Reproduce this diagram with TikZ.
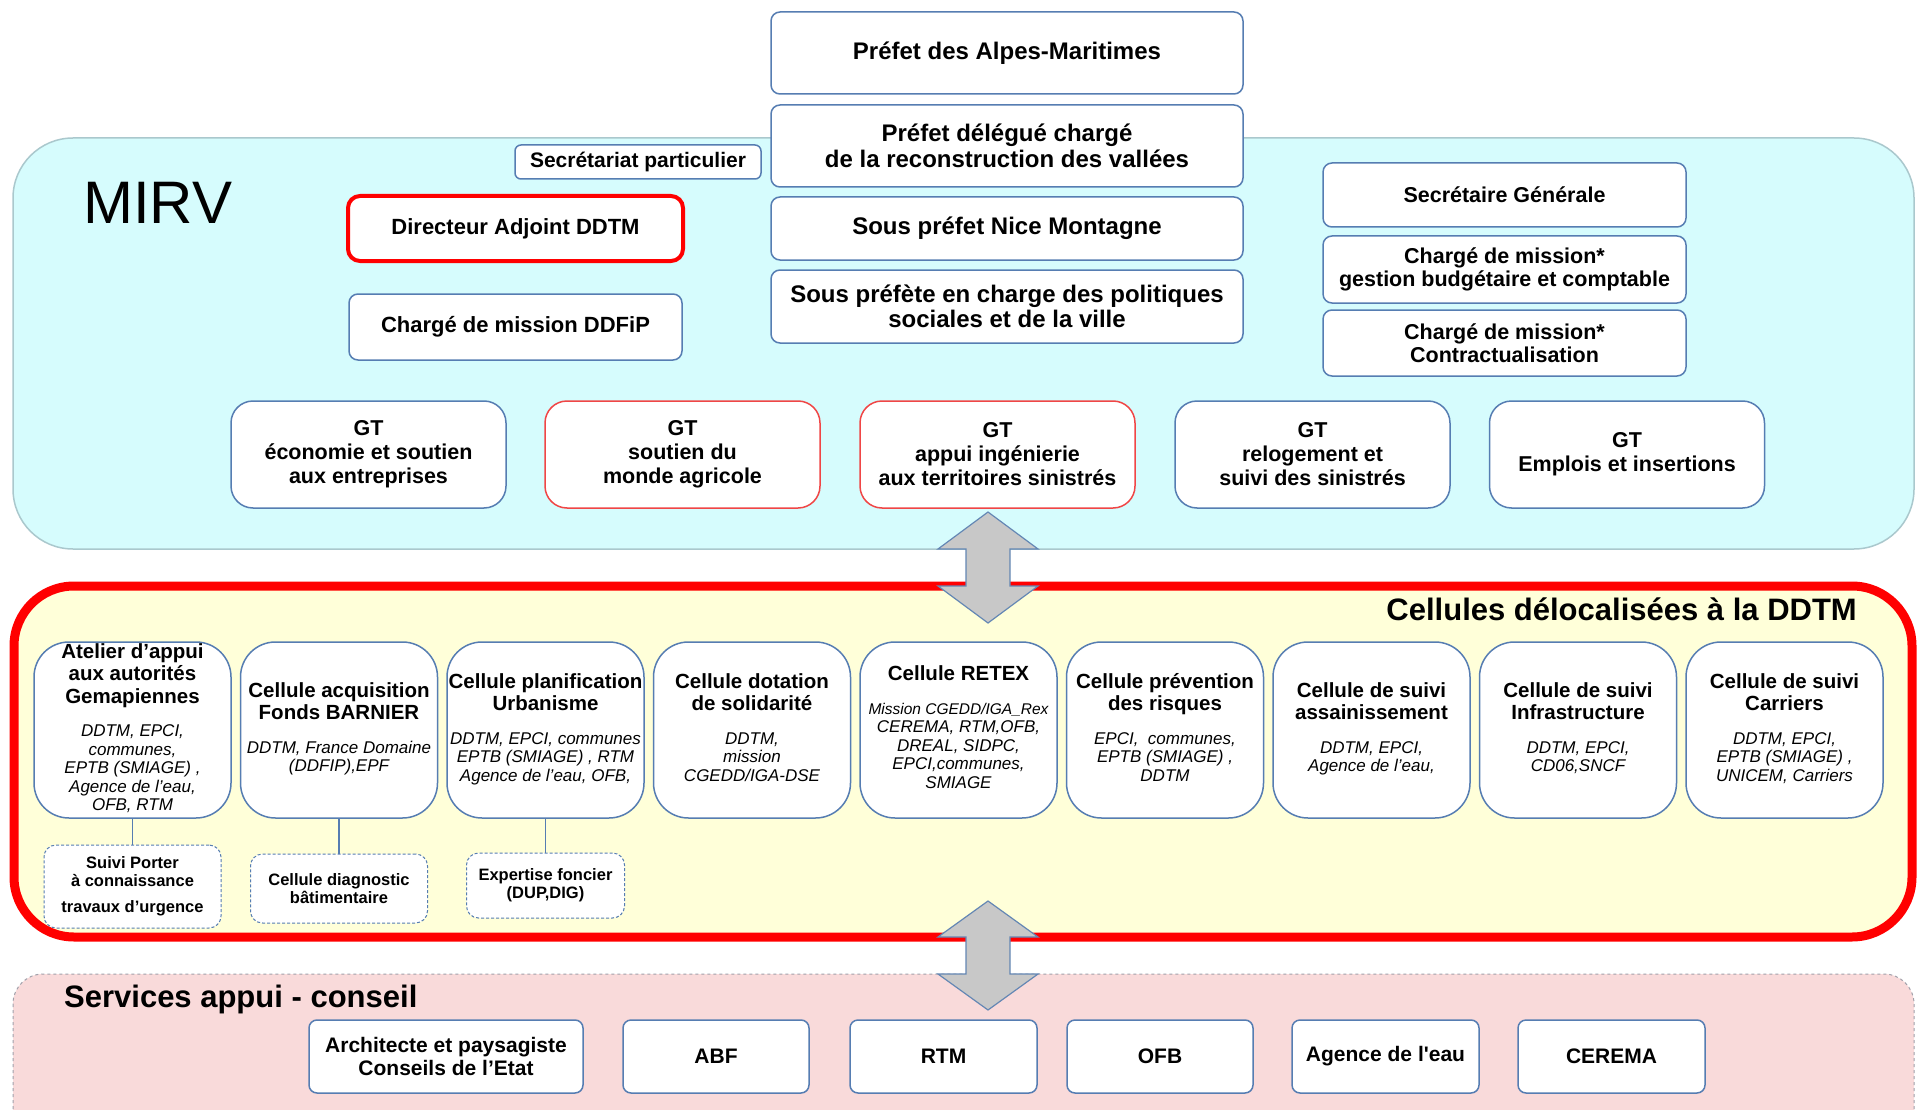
\documentclass[tikz,border=0pt]{standalone}
\usepackage{fontspec}
\setmainfont{Liberation Sans}
\usetikzlibrary{calc}
\newcommand\myfs[2]{\fontsize{#1pt}{#2pt}\selectfont}
\newcommand\detl[1]{{\mdseries\itshape\myfs{17}{18.5}\begin{tabular}[t]{@{}c@{}}#1\end{tabular}}}

\definecolor{boxblue}{RGB}{86,125,178}
\definecolor{mirvfill}{RGB}{214,252,253}
\definecolor{mirvline}{RGB}{170,200,205}
\definecolor{cellfill}{RGB}{255,255,217}
\definecolor{servfill}{RGB}{249,218,218}
\definecolor{servline}{RGB}{160,160,170}
\definecolor{redline}{RGB}{255,0,0}
\definecolor{gtred}{RGB}{240,70,70}
\definecolor{arrowfill}{RGB}{200,200,200}
\definecolor{arrowline}{RGB}{100,135,180}

\begin{document}
\begin{tikzpicture}[x=1pt,y=-1pt,
  base/.style={draw=boxblue, line width=1.5pt, fill=white, align=center, inner sep=0pt, font=\bfseries},
  topbox/.style={base, rounded corners=9pt, minimum width=472pt, font=\bfseries\myfs{24}{25.5}},
  midbox/.style={base, rounded corners=9pt, font=\bfseries\myfs{21.5}{23}},
  gtbox/.style={base, rounded corners=22pt, minimum width=275pt, minimum height=107pt, font=\bfseries\myfs{21.5}{24}},
  cellbox/.style={base, rounded corners=35pt, minimum width=197pt, minimum height=176pt, font=\bfseries\myfs{20.5}{22.5}},
  dashbox/.style={base, densely dashed, line width=1pt, rounded corners=12pt, font=\bfseries\myfs{16.5}{18}},
  servbox/.style={base, rounded corners=8pt, minimum height=73pt, font=\bfseries\myfs{21}{23.5}},
  link/.style={draw=boxblue, line width=1.2pt},
  bigarrow/.style={fill=arrowfill, draw=arrowline, line width=1.2pt, line join=miter},
  title/.style={inner sep=0pt, font=\bfseries\myfs{31}{33}},
]
\clip (0,0) rectangle (1917,1110);
\fill[white] (0,0) rectangle (1917,1110);

% regions
\draw[mirvline, fill=mirvfill, line width=1.5pt, rounded corners=60pt] (13,138) rectangle (1914,549);
\draw[redline, fill=cellfill, line width=9pt, rounded corners=60pt] (14,586) rectangle (1912,937);
\draw[servline, fill=servfill, line width=1pt, dashed, rounded corners=30pt] (13,974) rectangle (1914,1160);

% MIRV
\node[anchor=base west, inner sep=0pt, font=\myfs{60}{64}] (mirv) at (83,224) {MIRV};

\node[topbox, minimum height=82pt] (prefet) at (1007,53) {Préfet des Alpes-Maritimes};
\node[topbox, minimum height=82pt] (delegue) at (1007,146) {Préfet délégué chargé\\de la reconstruction des vallées};
\node[topbox, minimum height=63pt] (souspref) at (1007,228.5) {Sous préfet Nice Montagne};
\node[topbox, minimum height=73pt] (sousprefete) at (1007,306.5) {Sous préfète en charge des politiques\\sociales et de la ville};

\node[base, rounded corners=6pt, minimum width=246pt, minimum height=34pt, font=\bfseries\myfs{21}{22}] (secr) at (638,162) {Secrétariat particulier};
\node[base, draw=redline, line width=4pt, rounded corners=12pt, minimum width=335pt, minimum height=65pt, font=\bfseries\myfs{22}{23}] (dir) at (515.5,228.5) {Directeur Adjoint DDTM};
\node[midbox, minimum width=333pt, minimum height=66pt, font=\bfseries\myfs{22}{23}] (ddfip) at (515.5,327) {Chargé de mission DDFiP};

\node[midbox, minimum width=363pt, minimum height=64pt] (sg) at (1504.5,195) {Secrétaire Générale};
\node[midbox, minimum width=363pt, minimum height=67pt] (cm1) at (1504.5,269.5) {Chargé de mission*\\gestion budgétaire et comptable};
\node[midbox, minimum width=363pt, minimum height=66pt] (cm2) at (1504.5,343) {Chargé de mission*\\Contractualisation};

\node[gtbox] (gt1) at (368.5,454.5) {GT\\économie et soutien\\aux entreprises};
\node[gtbox, draw=gtred] (gt2) at (682.5,454.5) {GT\\soutien du\\monde agricole};
\node[gtbox, draw=gtred] (gt3) at (997.5,454.5) {GT\\appui ingénierie\\aux territoires sinistrés};
\node[gtbox] (gt4) at (1312.5,454.5) {GT\\relogement et\\suivi des sinistrés};
\node[gtbox] (gt5) at (1627,454.5) {GT\\Emplois et insertions};

% Cellules
\node[title, anchor=base east] (celltitle) at (1857,620) {Cellules délocalisées à la DDTM};

\node[cellbox] (cell1) at (132.5,730) {Atelier d’appui\\aux autorités\\Gemapiennes\\[11pt]\detl{DDTM, EPCI,\\communes,\\EPTB (SMIAGE) ,\\Agence de l'eau,\\OFB, RTM}};
\node[cellbox] (cell2) at (339,730) {Cellule acquisition\\Fonds BARNIER\\[11pt]\detl{DDTM, France Domaine\\(DDFIP),EPF}};
\node[cellbox] (cell3) at (545.5,730) {Cellule planification\\Urbanisme\\[11pt]\detl{DDTM, EPCI, communes\\EPTB (SMIAGE) , RTM\\Agence de l'eau, OFB,}};
\node[cellbox] (cell4) at (752,730) {Cellule dotation\\de solidarité\\[11pt]\detl{DDTM,\\mission\\CGEDD/IGA-DSE}};
\node[cellbox] (cell5) at (958.5,730) {Cellule RETEX\\[11pt]\detl{{\myfs{15.5}{18.5}Mission CGEDD/IGA\_Rex}\\CEREMA, RTM,OFB,\\DREAL, SIDPC,\\EPCI,communes,\\SMIAGE}};
\node[cellbox] (cell6) at (1165,730) {Cellule prévention\\des risques\\[11pt]\detl{EPCI,\ \ communes,\\EPTB (SMIAGE) ,\\DDTM}};
\node[cellbox] (cell7) at (1371.5,730) {Cellule de suivi\\assainissement\\[11pt]\detl{DDTM, EPCI,\\Agence de l'eau,}};
\node[cellbox] (cell8) at (1578,730) {Cellule de suivi\\Infrastructure\\[11pt]\detl{DDTM, EPCI,\\CD06,SNCF}};
\node[cellbox] (cell9) at (1784.5,730) {Cellule de suivi\\Carriers\\[11pt]\detl{DDTM, EPCI,\\EPTB (SMIAGE) ,\\UNICEM, Carriers}};

\node[dashbox, minimum width=177pt, minimum height=83pt] (suivi) at (132.5,886.5) {Suivi Porter\\à connaissance\\[8pt]travaux d’urgence};
\node[dashbox, minimum width=177pt, minimum height=69pt] (diag) at (339,888.5) {Cellule diagnostic\\bâtimentaire};
\node[dashbox, minimum width=158pt, minimum height=65pt] (expert) at (545.5,885.5) {Expertise foncier\\(DUP,DIG)};

\draw[link] (cell1.south) -- (suivi.north);
\draw[link] (cell2.south) -- (diag.north);
\draw[link] (cell3.south) -- (expert.north);

% Services
\node[title, anchor=base west] (servtitle) at (64,1007) {Services appui - conseil};
\node[servbox, minimum width=274pt] (archi) at (446,1056.5) {Architecte et paysagiste\\Conseils de l’Etat};
\node[servbox, minimum width=186pt] (abf) at (716,1056.5) {ABF};
\node[servbox, minimum width=187pt] (rtm) at (943.5,1056.5) {RTM};
\node[servbox, minimum width=186pt] (ofb) at (1160,1056.5) {OFB};
\node[servbox, minimum width=187pt] (agence) at (1385.5,1056.5) {Agence de l\textquotesingle eau};
\node[servbox, minimum width=187pt] (cerema) at (1611.5,1056.5) {CEREMA};

% double arrows
\coordinate (ar1) at (988,567.5);
\draw[bigarrow] ($(ar1)+(0,-55.5)$) -- ++(50,37) -- ++(-28,0) -- ++(0,37) -- ++(28,0) -- ++(-50,37) -- ++(-50,-37) -- ++(28,0) -- ++(0,-37) -- ++(-28,0) -- cycle;
\coordinate (ar2) at (988,955.5);
\draw[bigarrow] ($(ar2)+(0,-54.5)$) -- ++(50,36) -- ++(-28,0) -- ++(0,37) -- ++(28,0) -- ++(-50,36) -- ++(-50,-36) -- ++(28,0) -- ++(0,-37) -- ++(-28,0) -- cycle;
\end{tikzpicture}
\end{document}
